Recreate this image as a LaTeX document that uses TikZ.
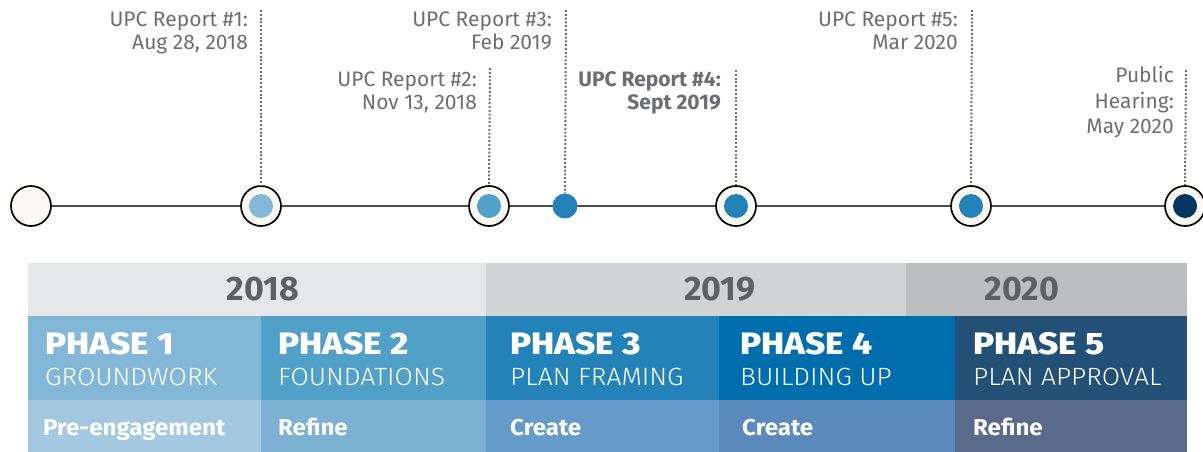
\documentclass[tikz,border=0pt]{standalone}
\usepackage{fontspec}
\setmainfont{Fira Sans}
\newfontfamily\heavyfont[FakeStretch=1.13]{Fira Sans ExtraBold}
\newfontfamily\lightfont[FakeStretch=1.06]{Fira Sans Light}
\newfontfamily\boldfont[FakeStretch=1.05]{Fira Sans Bold}
\definecolor{ringfill}{HTML}{FBFAF5}
\definecolor{labelgray}{HTML}{6D6E71}
\definecolor{linegray}{HTML}{4D4D4D}
\definecolor{yA}{HTML}{E6E7E9}
\definecolor{yB}{HTML}{D2D3D5}
\definecolor{yC}{HTML}{BDBEC0}
\definecolor{yeartext}{HTML}{606060}
\definecolor{pA}{HTML}{82B7D8}
\definecolor{pB}{HTML}{51A0C8}
\definecolor{pC}{HTML}{2382B8}
\definecolor{pD}{HTML}{006EAD}
\definecolor{pE}{HTML}{235077}
\definecolor{bA}{HTML}{A3C8E0}
\definecolor{bB}{HTML}{7DB1D4}
\definecolor{bC}{HTML}{649BC8}
\definecolor{bD}{HTML}{5A8ABB}
\definecolor{bE}{HTML}{596A8B}
\definecolor{dF}{HTML}{003660}
\tikzset{
  ring/.style={circle, draw=black, line width=1.7pt, fill=ringfill, minimum size=40pt, inner sep=0pt},
  dotc/.style={circle, minimum size=24pt, inner sep=0pt},
  tline/.style={draw=linegray, line width=2pt},
  dotline/.style={draw=labelgray, line width=2pt, dash pattern=on 2pt off 1.8pt},
  lbl/.style={font=\fontsize{21}{24}\selectfont, text=labelgray, inner sep=0pt, anchor=base east},
  lblb/.style={font=\fontsize{21}{24}\selectfont\bfseries, text=labelgray, inner sep=0pt, anchor=base east},
  yr/.style={font=\fontsize{34}{38}\selectfont\bfseries, text=yeartext, inner sep=0pt, anchor=base},
  ph/.style={font=\fontsize{31}{34}\selectfont\heavyfont, text=white, inner sep=0pt, anchor=base west},
  sub/.style={font=\fontsize{25}{28}\selectfont\lightfont, text=white, inner sep=0pt, anchor=base west},
  bt/.style={font=\fontsize{23}{26}\selectfont\boldfont, text=white, inner sep=0pt, anchor=base west},
}
\begin{document}
\begin{tikzpicture}[x=1pt,y=-1pt]
\useasboundingbox (0,0) rectangle (1203,452);
% timeline positions
\coordinate (p0) at (31,206);
\coordinate (p1) at (261,206);
\coordinate (p2) at (489,206);
\coordinate (p3) at (565,206);
\coordinate (p4) at (736,206);
\coordinate (p5) at (971,206);
\coordinate (p6) at (1185,206);
\draw[tline] (p0) -- (p6);
\node[ring] (c0) at (p0) {};
\node[ring] (c1) at (p1) {};
\node[ring] (c2) at (p2) {};
\node[dotc, minimum size=25pt, fill=pC] (c3) at (p3) {};
\node[ring] (c4) at (p4) {};
\node[ring] (c5) at (p5) {};
\node[ring] (c6) at (p6) {};
\node[dotc, fill=pA] (d1) at (p1) {};
\node[dotc, fill=pB] (d2) at (p2) {};
\node[dotc, fill=pC] (d4) at (p4) {};
\node[dotc, fill=pC] (d5) at (p5) {};
\node[dotc, fill=dF] (d6) at (p6) {};
% dotted leaders
\coordinate (t1) at (261,10);
\coordinate (t2) at (490,68);
\coordinate (t3) at (566,10);
\coordinate (t4) at (736,70);
\coordinate (t5) at (972,10);
\coordinate (t6) at (1186,70);
\draw[dotline] (t1) -- (c1.north);
\draw[dotline] (t2) -- (c2.north);
\draw[dotline] (t3) -- (c3.north);
\draw[dotline] (t4) -- (c4.north);
\draw[dotline] (t5) -- (c5.north);
\draw[dotline] (t6) -- (c6.north);
% labels
\node[lbl] (l1a) at (248,27) {UPC Report \#1:};
\node[lbl] (l1b) at (248,50) {Aug 28, 2018};
\node[lbl] (l2a) at (477,87) {UPC Report \#2:};
\node[lbl] (l2b) at (477,110) {Nov 13, 2018};
\node[lbl] (l3a) at (552,27) {UPC Report \#3:};
\node[lbl] (l3b) at (552,50) {Feb 2019};
\node[lblb] (l4a) at (721,87) {UPC Report \#4:};
\node[lblb] (l4b) at (721,110) {Sept 2019};
\node[lbl] (l5a) at (958,27) {UPC Report \#5:};
\node[lbl] (l5b) at (958,50) {Mar 2020};
\node[lbl] (l6a) at (1174,82) {Public};
\node[lbl] (l6b) at (1174,108) {Hearing:};
\node[lbl] (l6c) at (1174,133) {May 2020};
% year band
\fill[yA] (28,263) rectangle (486,316);
\fill[yB] (486,263) rectangle (906,316);
\fill[yC] (906,263) rectangle (1187,316);
\node[yr] (y18) at (263,300) {2018};
\node[yr] (y19) at (720,300) {2019};
\node[yr] (y20) at (1022,300) {2020};
% phase band
\fill[pA] (28,316) rectangle (261,400);
\fill[pB] (261,316) rectangle (486,400);
\fill[pC] (486,316) rectangle (719,400);
\fill[pD] (719,316) rectangle (955,400);
\fill[pE] (955,316) rectangle (1187,400);
\fill[bA] (28,400) rectangle (261,452);
\fill[bB] (261,400) rectangle (486,452);
\fill[bC] (486,400) rectangle (719,452);
\fill[bD] (719,400) rectangle (955,452);
\fill[bE] (955,400) rectangle (1187,452);
\node[ph] (h1) at (45,354) {PHASE 1};
\node[ph] (h2) at (278,354) {PHASE 2};
\node[ph] (h3) at (510,354) {PHASE 3};
\node[ph] (h4) at (740,354) {PHASE 4};
\node[ph] (h5) at (973,354) {PHASE 5};
\node[sub] (s1) at (45,385) {GROUNDWORK};
\node[sub] (s2) at (278,385) {FOUNDATIONS};
\node[sub] (s3) at (510,385) {PLAN FRAMING};
\node[sub] (s4) at (740,385) {BUILDING UP};
\node[sub] (s5) at (973,385) {PLAN APPROVAL};
\node[bt] (b1) at (43,435) {Pre-engagement};
\node[bt] (b2) at (278,435) {Refine};
\node[bt] (b3) at (510,435) {Create};
\node[bt] (b4) at (742,435) {Create};
\node[bt] (b5) at (973,435) {Refine};
\end{tikzpicture}
\end{document}
